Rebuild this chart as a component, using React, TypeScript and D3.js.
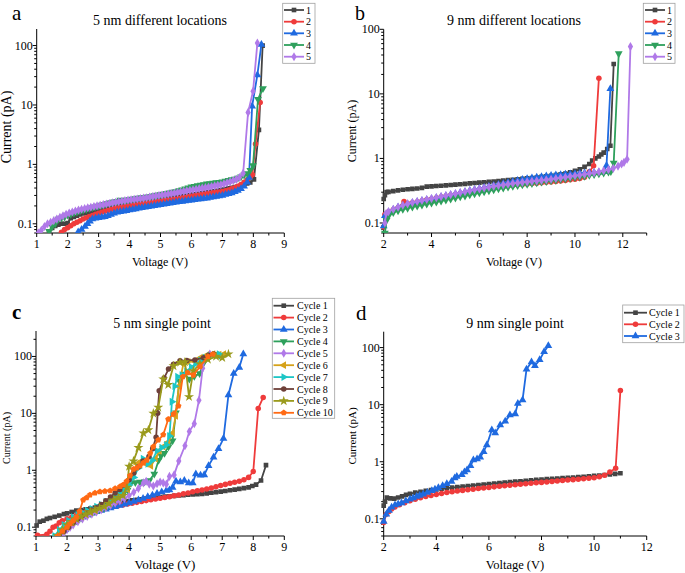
import React from 'react';
import * as d3 from 'd3';

type Pt = [number, number];

// ---------- Panel a : 5 nm different locations ----------
const a1: Pt[] = [[1.4,0.072],[1.5,0.085],[1.6,0.092],[1.7,0.097],[1.8,0.1],[1.9,0.1],[2.0,0.103],[2.1,0.124],[2.2,0.13],[2.3,0.137],[2.4,0.144],[2.5,0.15],[2.6,0.154],[2.7,0.158],[2.8,0.163],[2.9,0.168],[3.0,0.173],[3.1,0.177],[3.2,0.181],[3.3,0.186],[3.4,0.19],[3.5,0.195],[3.6,0.199],[3.7,0.203],[3.8,0.208],[3.9,0.213],[4.0,0.218],[4.1,0.222],[4.2,0.226],[4.3,0.23],[4.4,0.234],[4.5,0.238],[4.6,0.242],[4.7,0.246],[4.8,0.25],[4.9,0.254],[5.0,0.258],[5.1,0.262],[5.2,0.266],[5.3,0.27],[5.4,0.275],[5.5,0.28],[5.6,0.285],[5.7,0.291],[5.8,0.297],[5.9,0.303],[6.0,0.309],[6.1,0.314],[6.2,0.32],[6.3,0.326],[6.4,0.332],[6.5,0.338],[6.6,0.345],[6.7,0.352],[6.8,0.36],[6.9,0.368],[7.0,0.376],[7.1,0.385],[7.2,0.395],[7.3,0.405],[7.4,0.416],[7.5,0.428],[7.6,0.445],[7.7,0.46],[7.8,0.478],[7.9,0.495],[8.02,0.56],[8.18,3.8],[8.3,100]];
const a2: Pt[] = [[1.8,0.072],[1.9,0.08],[2.0,0.086],[2.1,0.093],[2.2,0.1],[2.3,0.106],[2.4,0.113],[2.5,0.12],[2.6,0.126],[2.7,0.132],[2.8,0.138],[2.9,0.144],[3.0,0.15],[3.1,0.156],[3.2,0.162],[3.3,0.168],[3.4,0.174],[3.5,0.18],[3.6,0.184],[3.7,0.188],[3.8,0.192],[3.9,0.196],[4.0,0.2],[4.1,0.204],[4.2,0.208],[4.3,0.212],[4.4,0.216],[4.5,0.22],[4.6,0.224],[4.7,0.228],[4.8,0.232],[4.9,0.236],[5.0,0.24],[5.1,0.244],[5.2,0.248],[5.3,0.252],[5.4,0.256],[5.5,0.26],[5.6,0.266],[5.7,0.272],[5.8,0.278],[5.9,0.284],[6.0,0.29],[6.1,0.296],[6.2,0.302],[6.3,0.308],[6.4,0.314],[6.5,0.32],[6.6,0.326],[6.7,0.332],[6.8,0.338],[6.9,0.344],[7.0,0.35],[7.1,0.36],[7.2,0.372],[7.3,0.387],[7.4,0.405],[7.5,0.43],[7.6,0.46],[7.7,0.5],[7.8,0.55],[7.9,0.61],[7.97,0.67],[8.07,2.2],[8.22,11]];
const a3: Pt[] = [[2.34,0.073],[2.45,0.08],[2.56,0.09],[2.64,0.1],[2.72,0.11],[2.8,0.12],[2.9,0.124],[3.0,0.127],[3.1,0.129],[3.2,0.131],[3.3,0.136],[3.4,0.143],[3.5,0.15],[3.6,0.156],[3.7,0.16],[3.8,0.163],[3.9,0.166],[4.0,0.17],[4.1,0.174],[4.2,0.178],[4.3,0.182],[4.4,0.186],[4.5,0.19],[4.6,0.194],[4.7,0.198],[4.8,0.202],[4.9,0.206],[5.0,0.21],[5.1,0.214],[5.2,0.218],[5.3,0.222],[5.4,0.226],[5.5,0.23],[5.6,0.234],[5.7,0.238],[5.8,0.242],[5.9,0.246],[6.0,0.25],[6.1,0.254],[6.2,0.258],[6.3,0.262],[6.4,0.266],[6.5,0.27],[6.6,0.276],[6.7,0.282],[6.8,0.288],[6.9,0.294],[7.0,0.3],[7.1,0.31],[7.2,0.32],[7.3,0.33],[7.4,0.345],[7.5,0.365],[7.6,0.39],[7.7,0.43],[7.8,0.5],[7.86,0.6],[7.96,9.5],[8.13,32],[8.26,104]];
const a4: Pt[] = [[1.4,0.075],[1.5,0.09],[1.6,0.1],[1.7,0.12],[1.8,0.125],[1.9,0.13],[2.0,0.14],[2.1,0.145],[2.2,0.152],[2.3,0.158],[2.4,0.164],[2.5,0.17],[2.6,0.176],[2.7,0.182],[2.8,0.188],[2.9,0.194],[3.0,0.2],[3.1,0.207],[3.2,0.214],[3.3,0.221],[3.4,0.228],[3.5,0.235],[3.6,0.24],[3.7,0.252],[3.8,0.248],[3.9,0.252],[4.0,0.256],[4.1,0.261],[4.2,0.266],[4.3,0.271],[4.4,0.276],[4.5,0.28],[4.6,0.286],[4.7,0.292],[4.8,0.298],[4.9,0.304],[5.0,0.31],[5.1,0.318],[5.2,0.326],[5.3,0.334],[5.4,0.342],[5.5,0.35],[5.6,0.362],[5.7,0.375],[5.8,0.39],[5.9,0.405],[6.0,0.42],[6.1,0.43],[6.2,0.44],[6.3,0.45],[6.4,0.46],[6.5,0.47],[6.6,0.478],[6.7,0.486],[6.8,0.494],[6.9,0.502],[7.0,0.51],[7.1,0.525],[7.2,0.54],[7.3,0.555],[7.4,0.57],[7.5,0.59],[7.6,0.62],[7.7,0.66],[7.8,0.7],[7.9,0.8],[7.99,0.96],[8.15,12.5],[8.31,19]];
const a5: Pt[] = [[1.05,0.07],[1.15,0.078],[1.25,0.09],[1.35,0.1],[1.45,0.106],[1.55,0.113],[1.65,0.12],[1.75,0.128],[1.85,0.136],[1.95,0.145],[2.05,0.152],[2.15,0.158],[2.25,0.164],[2.35,0.17],[2.45,0.176],[2.55,0.181],[2.65,0.186],[2.75,0.19],[2.85,0.195],[2.95,0.2],[3.05,0.205],[3.15,0.21],[3.25,0.215],[3.35,0.22],[3.45,0.225],[3.55,0.23],[3.65,0.235],[3.75,0.24],[3.85,0.245],[3.95,0.25],[4.05,0.254],[4.15,0.258],[4.25,0.262],[4.35,0.266],[4.45,0.27],[4.55,0.275],[4.65,0.281],[4.75,0.287],[4.85,0.293],[4.95,0.299],[5.05,0.304],[5.15,0.31],[5.25,0.316],[5.35,0.322],[5.45,0.328],[5.55,0.335],[5.65,0.343],[5.75,0.351],[5.85,0.359],[5.95,0.367],[6.05,0.374],[6.15,0.382],[6.25,0.39],[6.35,0.398],[6.45,0.406],[6.55,0.414],[6.65,0.424],[6.75,0.434],[6.85,0.444],[6.95,0.455],[7.05,0.47],[7.15,0.49],[7.25,0.51],[7.35,0.535],[7.45,0.56],[7.55,0.6],[7.67,0.71],[7.83,7.5],[7.99,17],[8.13,110]];

// ---------- Panel b : 9 nm different locations ----------
const b1: Pt[] = [[2.0,0.235],[2.05,0.27],[2.12,0.3],[2.2,0.303],[2.4,0.312],[2.6,0.32],[2.8,0.327],[3.0,0.333],[3.2,0.338],[3.4,0.342],[3.6,0.35],[3.8,0.365],[4.0,0.37],[4.2,0.374],[4.4,0.378],[4.6,0.383],[4.8,0.388],[5.0,0.393],[5.2,0.398],[5.4,0.404],[5.6,0.41],[5.8,0.416],[6.0,0.422],[6.2,0.428],[6.4,0.434],[6.6,0.44],[6.8,0.447],[7.0,0.454],[7.2,0.461],[7.4,0.468],[7.6,0.475],[7.8,0.482],[8.0,0.49],[8.2,0.498],[8.4,0.507],[8.6,0.517],[8.8,0.528],[9.0,0.54],[9.2,0.553],[9.4,0.568],[9.6,0.585],[9.8,0.61],[10.0,0.64],[10.2,0.68],[10.4,0.74],[10.6,0.82],[10.72,0.93],[10.85,1.0],[11.0,1.07],[11.1,1.15],[11.2,1.23],[11.35,1.4],[11.48,1.57],[11.62,29]];
const b2: Pt[] = [[2.0,0.087],[2.05,0.135],[2.2,0.148],[2.4,0.16],[2.6,0.172],[2.85,0.215],[3.0,0.2],[3.2,0.205],[3.4,0.212],[3.6,0.22],[3.8,0.228],[4.0,0.236],[4.2,0.244],[4.4,0.252],[4.6,0.26],[4.8,0.268],[5.0,0.276],[5.2,0.285],[5.4,0.294],[5.6,0.303],[5.8,0.313],[6.0,0.323],[6.2,0.333],[6.4,0.343],[6.6,0.352],[6.8,0.36],[7.0,0.368],[7.2,0.376],[7.4,0.384],[7.6,0.39],[7.8,0.396],[8.0,0.402],[8.2,0.408],[8.4,0.414],[8.6,0.42],[8.8,0.426],[9.0,0.432],[9.2,0.44],[9.4,0.448],[9.6,0.456],[9.8,0.466],[10.0,0.477],[10.2,0.49],[10.4,0.51],[10.6,0.62],[10.78,0.77],[11.0,17.5]];
const b3: Pt[] = [[2.0,0.09],[2.05,0.13],[2.2,0.148],[2.4,0.162],[2.6,0.175],[2.8,0.186],[3.0,0.196],[3.2,0.205],[3.4,0.213],[3.6,0.221],[3.8,0.229],[4.0,0.237],[4.2,0.246],[4.4,0.255],[4.6,0.264],[4.8,0.274],[5.0,0.284],[5.2,0.295],[5.4,0.306],[5.6,0.318],[5.8,0.33],[6.0,0.342],[6.2,0.355],[6.4,0.368],[6.6,0.382],[6.8,0.396],[7.0,0.41],[7.2,0.425],[7.4,0.44],[7.6,0.455],[7.8,0.47],[8.0,0.485],[8.2,0.498],[8.4,0.51],[8.6,0.522],[8.8,0.533],[9.0,0.543],[9.2,0.552],[9.4,0.56],[9.6,0.567],[9.8,0.574],[10.0,0.58],[10.2,0.586],[10.4,0.592],[10.6,0.598],[10.8,0.604],[11.0,0.61],[11.2,0.62],[11.32,0.78],[11.48,12]];
const b4: Pt[] = [[2.05,0.07],[2.12,0.11],[2.2,0.128],[2.4,0.145],[2.6,0.155],[2.8,0.163],[3.0,0.17],[3.2,0.177],[3.4,0.184],[3.6,0.19],[3.8,0.197],[4.0,0.204],[4.2,0.212],[4.4,0.22],[4.6,0.228],[4.8,0.236],[5.0,0.245],[5.2,0.254],[5.4,0.263],[5.6,0.273],[5.8,0.283],[6.0,0.294],[6.2,0.305],[6.4,0.316],[6.6,0.327],[6.8,0.338],[7.0,0.349],[7.2,0.36],[7.4,0.37],[7.6,0.38],[7.8,0.39],[8.0,0.4],[8.2,0.41],[8.4,0.42],[8.6,0.43],[8.8,0.44],[9.0,0.45],[9.2,0.46],[9.4,0.47],[9.6,0.48],[9.8,0.492],[10.0,0.505],[10.2,0.518],[10.4,0.532],[10.6,0.547],[10.8,0.562],[11.0,0.578],[11.2,0.595],[11.4,0.615],[11.5,0.63],[11.62,0.85],[11.83,42]];
const b5: Pt[] = [[2.05,0.1],[2.1,0.14],[2.2,0.15],[2.4,0.163],[2.6,0.176],[2.8,0.188],[3.0,0.198],[3.2,0.207],[3.4,0.215],[3.6,0.223],[3.8,0.231],[4.0,0.239],[4.2,0.247],[4.4,0.256],[4.6,0.265],[4.8,0.275],[5.0,0.285],[5.2,0.295],[5.4,0.305],[5.6,0.316],[5.8,0.327],[6.0,0.338],[6.2,0.349],[6.4,0.36],[6.6,0.37],[6.8,0.38],[7.0,0.39],[7.2,0.4],[7.4,0.41],[7.6,0.418],[7.8,0.426],[8.0,0.434],[8.2,0.442],[8.4,0.45],[8.6,0.458],[8.8,0.467],[9.0,0.477],[9.2,0.488],[9.4,0.5],[9.6,0.512],[9.8,0.525],[10.0,0.538],[10.2,0.552],[10.4,0.567],[10.6,0.583],[10.8,0.6],[11.0,0.62],[11.2,0.645],[11.4,0.67],[11.6,0.7],[11.8,0.76],[11.95,0.82],[12.05,0.87],[12.18,0.97],[12.32,54]];

// ---------- Panel c : 5 nm single point ----------
const c1: Pt[] = [[1.02,0.107],[1.12,0.125],[1.24,0.13],[1.35,0.14],[1.45,0.145],[1.6,0.152],[1.75,0.16],[1.9,0.17],[2.0,0.175],[2.15,0.185],[2.3,0.196],[2.45,0.2],[2.6,0.205],[2.75,0.212],[2.9,0.222],[3.05,0.232],[3.2,0.242],[3.35,0.252],[3.5,0.262],[3.65,0.272],[3.8,0.28],[3.95,0.288],[4.1,0.295],[4.25,0.302],[4.4,0.31],[4.55,0.318],[4.7,0.326],[4.85,0.333],[5.0,0.339],[5.15,0.345],[5.3,0.35],[5.45,0.355],[5.6,0.36],[5.75,0.366],[5.9,0.372],[6.05,0.377],[6.2,0.381],[6.35,0.385],[6.5,0.393],[6.65,0.402],[6.8,0.412],[6.95,0.422],[7.1,0.433],[7.25,0.445],[7.4,0.457],[7.55,0.47],[7.7,0.485],[7.85,0.5],[7.97,0.53],[8.09,0.56],[8.25,0.66],[8.41,1.23]];
const c2: Pt[] = [[1.05,0.072],[1.35,0.075],[1.45,0.085],[1.55,0.1],[1.65,0.105],[1.75,0.12],[1.85,0.13],[2.0,0.14],[2.15,0.15],[2.3,0.162],[2.45,0.172],[2.6,0.182],[2.75,0.19],[2.9,0.198],[3.05,0.206],[3.2,0.214],[3.35,0.222],[3.5,0.23],[3.65,0.238],[3.8,0.246],[3.95,0.255],[4.1,0.264],[4.25,0.273],[4.4,0.283],[4.55,0.293],[4.7,0.303],[4.85,0.313],[5.0,0.323],[5.15,0.333],[5.3,0.344],[5.45,0.356],[5.6,0.368],[5.75,0.385],[5.9,0.4],[6.05,0.42],[6.2,0.435],[6.35,0.45],[6.5,0.47],[6.65,0.49],[6.8,0.515],[6.95,0.54],[7.1,0.565],[7.25,0.59],[7.4,0.615],[7.55,0.64],[7.7,0.68],[7.85,0.75],[8.0,0.95],[8.16,12.2],[8.32,19]];
const c3: Pt[] = [[1.85,0.07],[1.95,0.09],[2.05,0.105],[2.2,0.125],[2.35,0.14],[2.5,0.152],[2.65,0.163],[2.8,0.175],[2.95,0.186],[3.1,0.196],[3.25,0.206],[3.4,0.217],[3.55,0.228],[3.7,0.24],[3.85,0.253],[4.0,0.267],[4.15,0.283],[4.3,0.3],[4.45,0.32],[4.6,0.342],[4.75,0.365],[4.9,0.39],[5.05,0.415],[5.2,0.44],[5.3,0.45],[5.4,0.5],[5.51,0.64],[5.65,0.62],[5.78,0.66],[5.92,0.6],[6.05,0.6],[6.15,0.86],[6.3,0.82],[6.42,0.83],[6.56,1.2],[6.72,1.7],[6.88,2.4],[7.04,3.6],[7.2,21],[7.37,50],[7.55,64],[7.68,110]];
const c4: Pt[] = [[1.75,0.07],[1.85,0.08],[1.95,0.09],[2.05,0.105],[2.15,0.115],[2.3,0.13],[2.45,0.145],[2.6,0.16],[2.75,0.175],[2.9,0.19],[3.05,0.205],[3.2,0.22],[3.35,0.245],[3.5,0.28],[3.65,0.32],[3.8,0.37],[3.95,0.45],[4.06,0.6],[4.2,0.61],[4.35,0.62],[4.5,0.63],[4.65,0.66],[4.81,0.86],[4.95,1.5],[5.03,1.8],[5.14,2.0],[5.27,2.6],[5.4,3.3],[5.51,10.3],[5.62,37],[5.78,49],[5.94,40],[6.1,45],[6.27,50],[6.42,80],[6.58,100],[6.75,108],[6.9,105]];
const c5: Pt[] = [[1.8,0.07],[1.9,0.08],[2.0,0.09],[2.1,0.1],[2.2,0.11],[2.35,0.125],[2.5,0.14],[2.65,0.155],[2.8,0.17],[2.95,0.185],[3.1,0.2],[3.25,0.22],[3.4,0.24],[3.55,0.265],[3.7,0.29],[3.85,0.32],[4.0,0.36],[4.15,0.41],[4.3,0.48],[4.46,0.6],[4.55,0.64],[4.65,0.57],[4.78,0.53],[4.9,0.58],[5.0,0.62],[5.1,0.6],[5.2,0.57],[5.3,0.78],[5.45,0.83],[5.6,1.45],[5.8,2.7],[5.94,4.8],[6.1,6.6],[6.25,17],[6.37,62],[6.45,95],[6.6,110]];
const c6: Pt[] = [[1.7,0.07],[1.85,0.085],[2.0,0.1],[2.15,0.12],[2.3,0.14],[2.45,0.155],[2.6,0.17],[2.75,0.185],[2.9,0.2],[3.05,0.22],[3.2,0.24],[3.35,0.27],[3.5,0.31],[3.65,0.35],[3.8,0.4],[3.95,0.46],[4.1,0.8],[4.25,1.3],[4.4,1.45],[4.55,1.3],[4.7,1.2],[4.85,1.6],[4.97,2.2],[5.1,2.6],[5.25,3.1],[5.4,4.5],[5.5,9],[5.6,30],[5.75,75],[5.9,80],[6.1,82],[6.3,95],[6.5,105],[6.7,110],[6.9,108],[7.05,110]];
const c7: Pt[] = [[1.6,0.07],[1.75,0.09],[1.9,0.11],[2.05,0.13],[2.2,0.15],[2.35,0.165],[2.5,0.18],[2.65,0.195],[2.8,0.21],[2.95,0.23],[3.1,0.25],[3.25,0.28],[3.4,0.31],[3.55,0.35],[3.7,0.4],[3.85,0.46],[4.0,0.55],[4.15,0.75],[4.3,1.1],[4.45,1.6],[4.6,1.3],[4.75,1.5],[4.9,2.2],[5.05,2.5],[5.2,2.8],[5.3,4],[5.38,16],[5.47,30],[5.56,44],[5.7,47],[5.85,55],[6.0,65],[6.15,75],[6.3,85],[6.45,95],[6.6,103],[6.75,108],[6.9,110]];
const c8: Pt[] = [[1.75,0.07],[1.9,0.085],[2.05,0.1],[2.2,0.12],[2.35,0.14],[2.5,0.16],[2.65,0.18],[2.8,0.2],[2.95,0.22],[3.1,0.25],[3.25,0.29],[3.4,0.34],[3.55,0.4],[3.7,0.46],[3.85,0.55],[4.0,0.68],[4.15,0.9],[4.3,1.15],[4.45,1.45],[4.64,1.74],[4.76,2.4],[4.87,3.8],[4.92,10],[4.97,25],[5.13,42],[5.27,60],[5.43,73],[5.64,84],[5.86,85],[6.12,87],[6.4,95],[6.56,105],[6.72,110]];
const c9: Pt[] = [[1.7,0.07],[1.85,0.09],[2.0,0.11],[2.15,0.125],[2.3,0.14],[2.45,0.155],[2.6,0.17],[2.75,0.185],[2.9,0.2],[3.05,0.215],[3.2,0.23],[3.35,0.26],[3.5,0.3],[3.65,0.33],[3.8,0.36],[3.93,0.5],[4.0,1.17],[4.14,1.45],[4.3,2.5],[4.46,4.5],[4.62,5.1],[4.78,10],[4.94,12.7],[5.1,40],[5.26,32],[5.43,68],[5.64,78],[5.8,80],[5.93,19.5],[6.07,56],[6.28,74],[6.54,88],[6.8,100],[7.0,95],[7.2,110]];
const c10: Pt[] = [[1.7,0.07],[1.85,0.085],[2.0,0.1],[2.1,0.115],[2.2,0.13],[2.3,0.15],[2.4,0.19],[2.52,0.3],[2.63,0.33],[2.74,0.37],[2.9,0.4],[3.06,0.42],[3.22,0.43],[3.39,0.44],[3.55,0.48],[3.71,0.52],[3.82,0.56],[3.92,0.64],[4.03,0.8],[4.14,1.05],[4.25,1.1],[4.35,1.2],[4.46,1.35],[4.57,1.5],[4.68,2.0],[4.78,2.6],[4.94,3.4],[5.1,4.2],[5.26,7.9],[5.43,9.8],[5.59,13.5],[5.73,44],[5.89,52],[6.07,47],[6.28,66],[6.54,100],[6.7,110]];

// ---------- Panel d : 9 nm single point ----------
const d1: Pt[] = [[2.0,0.17],[2.05,0.2],[2.12,0.235],[2.25,0.228],[2.4,0.226],[2.55,0.236],[2.7,0.248],[2.85,0.262],[3.0,0.275],[3.2,0.287],[3.4,0.298],[3.6,0.308],[3.8,0.318],[4.0,0.328],[4.2,0.336],[4.4,0.344],[4.6,0.352],[4.8,0.36],[5.0,0.368],[5.2,0.376],[5.4,0.384],[5.6,0.392],[5.8,0.4],[6.0,0.408],[6.2,0.416],[6.4,0.424],[6.6,0.432],[6.8,0.44],[7.0,0.448],[7.2,0.456],[7.4,0.464],[7.6,0.472],[7.8,0.48],[8.0,0.488],[8.2,0.495],[8.4,0.502],[8.6,0.509],[8.8,0.516],[9.0,0.523],[9.2,0.53],[9.4,0.538],[9.6,0.547],[9.8,0.556],[10.0,0.565],[10.2,0.575],[10.4,0.587],[10.6,0.6],[10.8,0.613],[11.0,0.628]];
const d2: Pt[] = [[2.0,0.086],[2.1,0.12],[2.2,0.135],[2.3,0.148],[2.43,0.162],[2.6,0.177],[2.8,0.192],[3.0,0.207],[3.2,0.22],[3.4,0.233],[3.6,0.245],[3.8,0.257],[4.0,0.268],[4.2,0.278],[4.4,0.288],[4.6,0.297],[4.8,0.306],[5.0,0.315],[5.2,0.323],[5.4,0.331],[5.6,0.339],[5.8,0.347],[6.0,0.355],[6.2,0.363],[6.4,0.371],[6.6,0.379],[6.8,0.387],[7.0,0.395],[7.2,0.403],[7.4,0.411],[7.6,0.419],[7.8,0.427],[8.0,0.435],[8.2,0.443],[8.4,0.451],[8.6,0.459],[8.8,0.468],[9.0,0.477],[9.2,0.486],[9.4,0.495],[9.6,0.505],[9.8,0.515],[10.0,0.526],[10.2,0.545],[10.4,0.58],[10.6,0.66],[10.82,0.77],[11.0,17.7]];
const d3s: Pt[] = [[2.0,0.09],[2.1,0.12],[2.2,0.14],[2.3,0.16],[2.43,0.175],[2.55,0.182],[2.68,0.19],[2.84,0.205],[3.0,0.22],[3.12,0.232],[3.25,0.245],[3.37,0.257],[3.5,0.27],[3.66,0.29],[3.83,0.31],[3.95,0.33],[4.08,0.35],[4.24,0.38],[4.4,0.41],[4.58,0.45],[4.7,0.52],[4.78,0.55],[4.97,0.59],[5.07,0.66],[5.17,0.72],[5.3,0.85],[5.41,1.07],[5.55,1.12],[5.67,1.2],[5.8,1.5],[5.92,1.97],[6.11,3.6],[6.24,3.2],[6.43,4.4],[6.62,5.1],[6.8,6.6],[7.0,6.9],[7.1,10.5],[7.28,12.1],[7.43,41.7],[7.62,56],[7.75,48],[7.93,61],[8.1,85],[8.26,108]];

// ---------- labels ----------
const legendAB = ['1', '2', '3', '4', '5'];
const legendC = ['Cycle 1', 'Cycle 2', 'Cycle 3', 'Cycle 4', 'Cycle 5', 'Cycle 6', 'Cycle 7', 'Cycle 8', 'Cycle 9', 'Cycle 10'];
const legendD = ['Cycle 1', 'Cycle 2', 'Cycle 3'];
const yTickValues = [0.1, 1, 10, 100];
const yTickLabels = ['0.1', '1', '10', '100'];
const xTicksAC = [1, 2, 3, 4, 5, 6, 7, 8, 9];
const xTicksBD = [2, 4, 6, 8, 10, 12];

const COLORS = ['#444444', '#ef3b3b', '#1f6ae0', '#2ea05c', '#b079e8', '#d6a21a', '#1dc6c6', '#6e4039', '#9a9a1c', '#ff6a14'];
const SHAPES = ['square', 'circle', 'up', 'down', 'diamond', 'left', 'right', 'circle', 'star', 'pentagon'];

const FONT = '"Liberation Serif", "Times New Roman", serif';

function markerPath(shape: string, size: number): { d: string; rot: number } {
  const sym = d3.symbol();
  switch (shape) {
    case 'square': return { d: sym.type(d3.symbolSquare).size(size * 0.9)() as string, rot: 0 };
    case 'circle': return { d: sym.type(d3.symbolCircle).size(size)() as string, rot: 0 };
    case 'up': return { d: sym.type(d3.symbolTriangle).size(size * 1.1)() as string, rot: 0 };
    case 'down': return { d: sym.type(d3.symbolTriangle).size(size * 1.1)() as string, rot: 180 };
    case 'left': return { d: sym.type(d3.symbolTriangle).size(size * 1.1)() as string, rot: -90 };
    case 'right': return { d: sym.type(d3.symbolTriangle).size(size * 1.1)() as string, rot: 90 };
    case 'diamond': return { d: sym.type(d3.symbolDiamond).size(size)() as string, rot: 0 };
    case 'star': return { d: sym.type(d3.symbolStar).size(size * 1.3)() as string, rot: 0 };
    case 'pentagon': {
      const r = Math.sqrt(size / 2.38);
      const pts = d3.range(5).map((i) => {
        const a = -Math.PI / 2 + (i * 2 * Math.PI) / 5;
        return [r * Math.cos(a), r * Math.sin(a)];
      });
      return { d: 'M' + pts.map((p) => p[0].toFixed(2) + ',' + p[1].toFixed(2)).join('L') + 'Z', rot: 0 };
    }
    default: return { d: sym.type(d3.symbolCircle).size(size)() as string, rot: 0 };
  }
}

interface TextSpec { x: number; y: number; size: number; }

interface PanelProps {
  id: string;
  left: number; right: number; top: number; bottom: number;
  xDomain: [number, number]; yDomain: [number, number];
  xTicks: number[]; xMinor: number[];
  series: Pt[][];
  names: string[];
  title: string; titlePos: TextSpec;
  letter: string; letterPos: TextSpec; letterBold?: boolean;
  xLabelPos: TextSpec; yLabelPos: TextSpec;
  legend: { x0: number; x1: number; y0: number; y1: number; rows: number[]; lineX0: number; lineX1: number; textX: number; fontSize: number };
}

const MS = 24;

function Panel(p: PanelProps) {
  const x = d3.scaleLinear().domain(p.xDomain).range([p.left, p.right]);
  const y = d3.scaleLog().domain(p.yDomain).range([p.bottom, p.top]);
  const line = d3.line<Pt>().x((d) => x(d[0])).y((d) => y(d[1]));
  const minor: number[] = [];
  [0.01, 0.1, 1, 10, 100].forEach((dec) => {
    for (let k = 2; k <= 9; k++) {
      const v = dec * k;
      if (v >= p.yDomain[0] && v <= p.yDomain[1]) minor.push(v);
    }
  });
  const clipId = 'clip-' + p.id;
  return (
    <g>
      <defs>
        <clipPath id={clipId}>
          <rect x={p.left - 4} y={p.top - 6} width={p.right - p.left + 10} height={p.bottom - p.top + 6} />
        </clipPath>
      </defs>
      <line x1={p.left} x2={p.right} y1={p.bottom} y2={p.bottom} stroke="#000" strokeWidth={1} />
      <line x1={p.left} x2={p.left} y1={p.top} y2={p.bottom} stroke="#000" strokeWidth={1} />
      {p.xTicks.map((t) => (
        <g key={'xt' + t}>
          <line x1={x(t)} x2={x(t)} y1={p.bottom} y2={p.bottom + 4} stroke="#000" />
          <text x={x(t)} y={p.bottom + 15} fontSize={12} textAnchor="middle" fontFamily={FONT}>{t}</text>
        </g>
      ))}
      {p.xMinor.map((t) => (
        <line key={'xm' + t} x1={x(t)} x2={x(t)} y1={p.bottom} y2={p.bottom + 2.5} stroke="#000" />
      ))}
      {yTickValues.filter((v) => v >= p.yDomain[0] && v <= p.yDomain[1]).map((t) => (
        <g key={'yt' + t}>
          <line x1={p.left - 4} x2={p.left} y1={y(t)} y2={y(t)} stroke="#000" />
          <text x={p.left - 4} y={y(t) + 4} fontSize={12} textAnchor="end" fontFamily={FONT}>{yTickLabels[yTickValues.indexOf(t)]}</text>
        </g>
      ))}
      {minor.map((t) => (
        <line key={'ym' + t} x1={p.left - 2.5} x2={p.left} y1={y(t)} y2={y(t)} stroke="#000" />
      ))}
      <g clipPath={`url(#${clipId})`}>
        {p.series.map((s, i) => {
          const m = markerPath(SHAPES[i], MS);
          return (
            <g key={'s' + i}>
              <path d={line(s) as string} fill="none" stroke={COLORS[i]} strokeWidth={1.8} strokeLinejoin="round" />
              {s.map((d, j) => (
                <path key={j} d={m.d} transform={`translate(${x(d[0])},${y(d[1])}) rotate(${m.rot})`} fill={COLORS[i]} />
              ))}
            </g>
          );
        })}
      </g>
      <text x={p.titlePos.x} y={p.titlePos.y} fontSize={p.titlePos.size} textAnchor="middle" fontFamily={FONT}>{p.title}</text>
      <text x={p.letterPos.x} y={p.letterPos.y} fontSize={p.letterPos.size} fontWeight={p.letterBold ? 'bold' : 'normal'} fontFamily={FONT}>{p.letter}</text>
      <text x={p.xLabelPos.x} y={p.xLabelPos.y} fontSize={p.xLabelPos.size} textAnchor="middle" fontFamily={FONT}>Voltage (V)</text>
      <text transform={`translate(${p.yLabelPos.x},${p.yLabelPos.y}) rotate(-90)`} fontSize={p.yLabelPos.size} textAnchor="middle" fontFamily={FONT}>Current (pA)</text>
      <rect x={p.legend.x0} y={p.legend.y0} width={p.legend.x1 - p.legend.x0} height={p.legend.y1 - p.legend.y0} fill="#fff" stroke="#a0a0a0" strokeWidth={0.8} />
      {p.names.map((n, i) => {
        const m = markerPath(SHAPES[i], MS);
        const ry = p.legend.rows[i];
        const cx = (p.legend.lineX0 + p.legend.lineX1) / 2;
        return (
          <g key={'lg' + i}>
            <line x1={p.legend.lineX0} x2={p.legend.lineX1} y1={ry} y2={ry} stroke={COLORS[i]} strokeWidth={1.8} />
            <path d={m.d} transform={`translate(${cx},${ry}) rotate(${m.rot})`} fill={COLORS[i]} />
            <text x={p.legend.textX} y={ry + 3.5} fontSize={p.legend.fontSize} fontFamily={FONT}>{n}</text>
          </g>
        );
      })}
    </g>
  );
}

export default function App() {
  const rowsAB = [10, 21.7, 33.3, 45, 56.7];
  const rowsC = [305.7, 317.6, 329.5, 341.4, 353.3, 365.2, 377.1, 389, 400.9, 412.8];
  const rowsD = [312.7, 324.3, 336];
  return (
    <svg width={685} height={573} style={{ position: 'absolute', left: 0, top: 0, background: '#fff' }}>
      <rect x={0} y={0} width={685} height={573} fill="#fff" />
      <Panel id="a" left={36.7} right={284.3} top={29} bottom={233}
        xDomain={[1, 9]} yDomain={[0.07, 190]}
        xTicks={xTicksAC} xMinor={[1.5, 2.5, 3.5, 4.5, 5.5, 6.5, 7.5, 8.5]}
        series={[a1, a2, a3, a4, a5]} names={legendAB}
        title="5 nm different locations" titlePos={{ x: 160, y: 25, size: 14 }}
        letter="a" letterPos={{ x: 12, y: 19.5, size: 21 }}
        xLabelPos={{ x: 160, y: 266, size: 12 }} yLabelPos={{ x: 10.5, y: 127, size: 14 }}
        legend={{ x0: 282.7, x1: 315, y0: 3.3, y1: 63.3, rows: rowsAB, lineX0: 284, lineX1: 304, textX: 306, fontSize: 10 }} />
      <Panel id="b" left={383.7} right={646.7} top={29.3} bottom={233}
        xDomain={[2, 13]} yDomain={[0.07, 100]}
        xTicks={xTicksBD} xMinor={[3, 5, 7, 9, 11, 13]}
        series={[b1, b2, b3, b4, b5]} names={legendAB}
        title="9 nm different locations" titlePos={{ x: 514, y: 25, size: 14 }}
        letter="b" letterPos={{ x: 355, y: 19.5, size: 20 }}
        xLabelPos={{ x: 514, y: 266, size: 12 }} yLabelPos={{ x: 356, y: 131, size: 12 }}
        legend={{ x0: 643.3, x1: 675, y0: 3.3, y1: 63.3, rows: rowsAB, lineX0: 645, lineX1: 665, textX: 667, fontSize: 10 }} />
      <Panel id="c" left={36} right={284.3} top={331} bottom={536}
        xDomain={[1, 9]} yDomain={[0.07, 280]}
        xTicks={xTicksAC} xMinor={[1.5, 2.5, 3.5, 4.5, 5.5, 6.5, 7.5, 8.5]}
        series={[c1, c2, c3, c4, c5, c6, c7, c8, c9, c10]} names={legendC}
        title="5 nm single point" titlePos={{ x: 162, y: 328, size: 14 }}
        letter="c" letterBold letterPos={{ x: 12, y: 319, size: 21 }}
        xLabelPos={{ x: 165, y: 569, size: 13 }} yLabelPos={{ x: 10, y: 438, size: 10 }}
        legend={{ x0: 272.3, x1: 334.7, y0: 298.3, y1: 418.3, rows: rowsC, lineX0: 273.5, lineX1: 294, textX: 297, fontSize: 10 }} />
      <Panel id="d" left={383.7} right={646.7} top={331.7} bottom={536}
        xDomain={[2, 12]} yDomain={[0.05, 190]}
        xTicks={xTicksBD} xMinor={[3, 5, 7, 9, 11]}
        series={[d1, d2, d3s]} names={legendD}
        title="9 nm single point" titlePos={{ x: 515, y: 328, size: 14 }}
        letter="d" letterPos={{ x: 356, y: 320, size: 21 }}
        xLabelPos={{ x: 515, y: 569, size: 12.5 }} yLabelPos={{ x: 355.5, y: 436, size: 11 }}
        legend={{ x0: 622.7, x1: 684, y0: 305, y1: 342.7, rows: rowsD, lineX0: 624, lineX1: 647, textX: 649, fontSize: 10 }} />
    </svg>
  );
}
